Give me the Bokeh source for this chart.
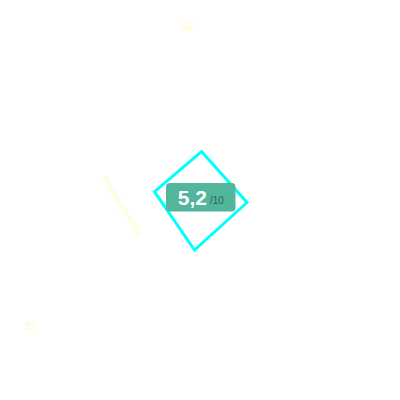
from bokeh.plotting import figure
from bokeh.models import Range1d
from bokeh.core.properties import value
from bokeh.embed import file_html
from bokeh.resources import INLINE

# data
score = ["5,2"]
score_max = ["/10"]
side_labels = ["58", "57"]
caption = ["Platina chocolat"]

H = 400  # page height, y is measured downward from the top of the page

p = figure(width=384, height=384, output_backend="svg", toolbar_location=None,
           x_range=Range1d(0, 384), y_range=Range1d(16, 400), min_border=0)
p.axis.visible = False
p.grid.visible = False
p.outline_line_color = None
p.background_fill_color = "white"
p.border_fill_color = "white"

# faint labels
p.text(x=[186], y=[H - 26], text=[side_labels[0]], text_color="#fffbd5",
       text_font=value("Liberation Sans"), text_font_size="11px", text_font_style="bold",
       text_align="center", text_baseline="middle")
p.text(x=[30], y=[H - 325], text=[side_labels[1]], text_color="#fffbd5",
       text_font=value("Liberation Sans"), text_font_size="11px", text_font_style="bold",
       text_align="center", text_baseline="middle")
p.text(x=[122], y=[H - 206], text=caption, text_color="#fffbd5",
       text_font=value("Liberation Sans"), text_font_size="9px", text_font_style="bold",
       angle=-57.8, angle_units="deg", text_align="center", text_baseline="middle")

# diamond frame
frame_x = [201, 246.5, 194, 154]
frame_y = [H - 151, H - 202, H - 249.5, H - 191.2]
p.patch(x=frame_x, y=frame_y, fill_color=None, line_color="#00ffff", line_width=3,
        line_join="miter")

# score badge
p.quad(left=[165.5], right=[235], top=[H - 182.5], bottom=[H - 211],
       fill_color="#52b59c", line_color=None, border_radius=4)
p.text(x=[206.5], y=[H - 197.5], text=score, text_color="white",
       text_font=value("Liberation Sans"), text_font_size="21px", text_font_style="bold",
       text_align="right", text_baseline="middle")
p.text(x=[209.5], y=[H - 199.5], text=score_max, text_color="#2f6256",
       text_font=value("Liberation Sans"), text_font_size="10px",
       text_align="left", text_baseline="middle")

open("out.html", "w").write(file_html(p, INLINE))
